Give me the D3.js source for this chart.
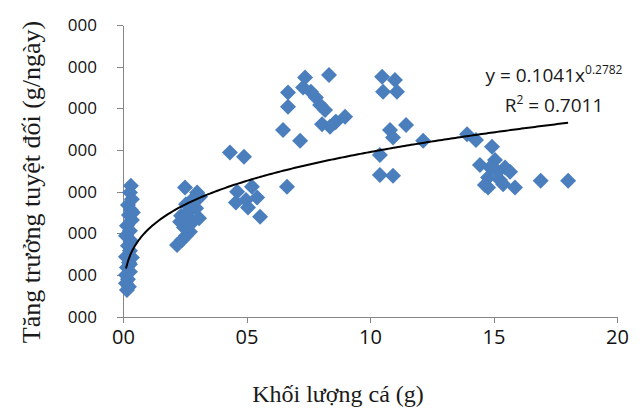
<!DOCTYPE html>
<html>
<head>
<meta charset="utf-8">
<script src="https://d3js.org/d3.v7.min.js"></script>
<style>
html,body{margin:0;background:#fff;}
svg{display:block;background:#fff;}
.axis path,.axis line{stroke:#868686;stroke-width:1px;shape-rendering:crispEdges;}
.axis text{font-family:'Open Sans',sans-serif;fill:#111;}
.title{font-family:'Liberation Serif','Times New Roman',serif;fill:#1a1a1a;}
.eq{font-family:'Open Sans',sans-serif;fill:#1a1a1a;}
</style>
</head>
<body>
<script>
// khoi luong ca (g) va tang truong (g/ngay), doc tu hinh
var weight = [
  0.32,0.28,0.36,0.20,0.32,0.24,0.36,0.16,0.28,0.12,0.32,0.20,0.28,0.12,0.24,0.16,0.28,0.12,0.20,0.12,0.24,0.16,0.36,0.40,0.28,
  2.19,2.39,2.55,2.71,2.47,2.63,2.83,3.08,2.35,2.67,2.96,2.55,2.51,3.00,3.12,2.79,2.31,
  4.33,4.90,4.62,4.57,5.22,5.43,5.06,5.55,6.64,4.98,
  6.48,6.68,6.68,7.17,7.37,7.29,7.61,7.81,7.98,8.18,8.06,8.38,8.62,8.99,8.34,8.58,
  10.49,11.01,10.53,11.09,10.81,11.46,10.93,10.40,10.40,10.93,12.15,
  13.93,14.29,14.94,14.45,15.06,15.47,15.67,14.78,15.26,14.78,15.87,16.91,18.02,15.18,14.86,14.65,15.39
];
var growth = [
  0.157,0.149,0.141,0.134,0.128,0.122,0.116,0.109,0.103,0.097,0.091,0.085,0.079,0.072,0.065,0.059,0.054,0.050,0.045,0.040,0.036,0.032,0.071,0.125,0.063,
  0.086,0.092,0.097,0.102,0.107,0.111,0.114,0.118,0.121,0.126,0.130,0.135,0.155,0.149,0.144,0.140,0.114,
  0.197,0.192,0.150,0.137,0.156,0.143,0.131,0.120,0.156,0.140,
  0.224,0.269,0.252,0.211,0.287,0.275,0.270,0.263,0.254,0.248,0.231,0.228,0.234,0.240,0.290,0.233,
  0.288,0.284,0.270,0.270,0.224,0.230,0.215,0.194,0.170,0.169,0.211,
  0.219,0.212,0.204,0.182,0.188,0.179,0.174,0.167,0.164,0.155,0.155,0.163,0.163,0.174,0.179,0.158,0.159
];
var xTicks = [0, 5, 10, 15, 20];
var xTickLabels = ["00", "05", "10", "15", "20"];
var yTicks = [0, 0.05, 0.10, 0.15, 0.20, 0.25, 0.30, 0.35];
var yTickLabels = ["000", "000", "000", "000", "000", "000", "000", "000"];
// duong xu huong: y = a * x^b
var fitA = 0.1041, fitB = 0.2782, fitR2 = "0.7011";

var W = 642, H = 416;
var margin = {top: 25, left: 123, right: 25, bottom: 99.3};

var svg = d3.select("body").append("svg")
  .attr("width", W)
  .attr("height", H);

var x = d3.scaleLinear().domain([0, 20]).range([margin.left, W - margin.right]);
var y = d3.scaleLinear().domain([0, 0.35]).range([H - margin.bottom, margin.top]);

// truc
var xAxis = d3.axisBottom(x).tickValues(xTicks)
  .tickFormat(function(d, i) { return xTickLabels[i]; })
  .tickSizeInner(6).tickSizeOuter(0).tickPadding(7);
var gx = svg.append("g").attr("class", "axis")
  .attr("transform", "translate(0," + y(0) + ")")
  .call(xAxis);
gx.selectAll("text").attr("font-size", "20px");

var yAxis = d3.axisLeft(y).tickValues(yTicks)
  .tickFormat(function(d, i) { return yTickLabels[i]; })
  .tickSizeInner(6).tickSizeOuter(0).tickPadding(20);
var gy = svg.append("g").attr("class", "axis")
  .attr("transform", "translate(" + x(0) + ",0)")
  .call(yAxis);
gy.selectAll("text").attr("font-size", "17px");

// diem
var pts = weight.map(function(w, i) { return {w: w, g: growth[i]}; });
svg.append("g").selectAll("path")
  .data(pts)
  .enter().append("path")
  .attr("transform", function(d) { return "translate(" + x(d.w) + "," + y(d.g) + ")"; })
  .attr("d", "M0,-8L8,0L0,8L-8,0Z")
  .attr("fill", "#4a7ebd");

// duong xu huong
var xmin = d3.min(weight), xmax = d3.max(weight);
var curve = d3.range(0, 201).map(function(k) {
  var xv = xmin + (xmax - xmin) * k / 200;
  return [xv, fitA * Math.pow(xv, fitB)];
});
svg.append("path")
  .datum(curve)
  .attr("fill", "none")
  .attr("stroke", "#000")
  .attr("stroke-width", 2)
  .attr("d", d3.line().x(function(d) { return x(d[0]); }).y(function(d) { return y(d[1]); }));

// phuong trinh
var eq = svg.append("text").attr("class", "eq")
  .attr("x", 554).attr("y", 82)
  .attr("text-anchor", "middle").attr("font-size", "19px");
eq.append("tspan").text("y = " + fitA + "x");
eq.append("tspan").attr("dy", -8).attr("font-size", "12px").text(fitB);

var r2 = svg.append("text").attr("class", "eq")
  .attr("x", 554).attr("y", 112)
  .attr("text-anchor", "middle").attr("font-size", "19px");
r2.append("tspan").text("R");
r2.append("tspan").attr("dy", -8).attr("font-size", "12px").text("2");
r2.append("tspan").attr("dy", 8).text(" = " + fitR2);

// ten truc
svg.append("text").attr("class", "title")
  .attr("transform", "translate(40,182) rotate(-90)")
  .attr("text-anchor", "middle")
  .attr("font-size", "26px")
  .text("Tăng trưởng tuyệt đối (g/ngày)");

svg.append("text").attr("class", "title")
  .attr("x", 338).attr("y", 402)
  .attr("text-anchor", "middle")
  .attr("font-size", "24px")
  .text("Khối lượng cá (g)");
</script>
</body>
</html>
